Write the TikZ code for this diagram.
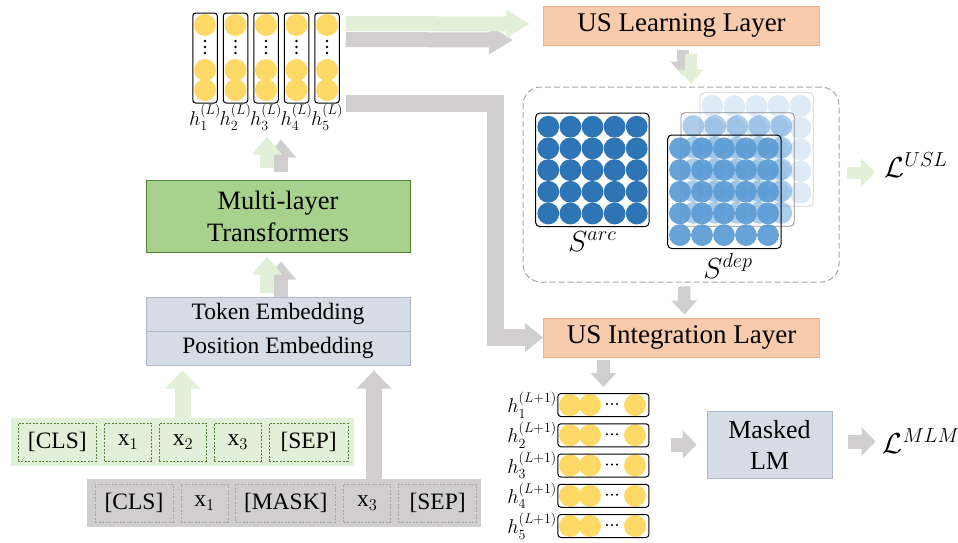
\RequirePackage{fix-cm}
\documentclass[tikz,border=0pt]{standalone}
\usepackage{fontspec}
\setmainfont{Liberation Serif}
\usepackage{amsmath}
\usetikzlibrary{arrows.meta,positioning}

\definecolor{dotyellow}{HTML}{FFD966}
\definecolor{arcblue}{HTML}{2E75B6}
\definecolor{depblue}{HTML}{5B9BD5}
\definecolor{flowgreen}{HTML}{E2F0D9}
\definecolor{flowgray}{HTML}{D0CECE}
\definecolor{layerfill}{HTML}{F8CBAD}
\definecolor{layerdraw}{HTML}{F4B183}
\definecolor{transfill}{HTML}{A9D18E}
\definecolor{transdraw}{HTML}{548235}
\definecolor{embfill}{HTML}{D6DCE5}
\definecolor{embdraw}{HTML}{ADB9CA}
\definecolor{dashgray}{HTML}{A6A6A6}

\tikzset{layerbox/.style={draw=layerdraw, fill=layerfill, line width=1pt, minimum width=276pt, minimum height=39pt, font=\fontsize{27}{30}\selectfont}}
\tikzset{embbox/.style={draw=embdraw, fill=embfill, line width=1pt, minimum width=264pt, minimum height=34pt, inner sep=0pt, font=\fontsize{23.5}{26}\selectfont}}
\tikzset{colbox/.style={draw, rounded corners=3pt, line width=1pt, minimum width=24.5pt, minimum height=90pt, inner sep=0pt}}
\tikzset{rowbox/.style={draw, rounded corners=3pt, line width=1pt, minimum width=91pt, minimum height=23pt, inner sep=0pt}}
\tikzset{matbox/.style={draw, rounded corners=4pt, line width=1pt, minimum width=113.3pt, minimum height=113.5pt, inner sep=0pt}}
\tikzset{hlabel/.style={font=\fontsize{20}{22}\selectfont, inner sep=0.5pt}}
\tikzset{tokbox/.style={dashed, dash pattern=on 2pt off 1.5pt, line width=0.7pt, minimum height=37.7pt, inner sep=0pt, font=\fontsize{23.5}{26}\selectfont}}
\tikzset{gtok/.style={tokbox, draw=transdraw}}
\tikzset{mtok/.style={tokbox, draw=dashgray}}
\tikzset{lossnode/.style={font=\fontsize{29}{31}\selectfont, inner sep=1pt}}
\tikzset{fatarrow/.style={line width=15pt, -{Triangle[length=24pt,width=27pt]}}}
\tikzset{smallarrow/.style={line width=14pt, -{Triangle[length=18pt,width=29pt]}}}
\tikzset{thinarrow/.style={line width=12.5pt, -{Triangle[length=14pt,width=25pt]}}}

\begin{document}
\begin{tikzpicture}[x=1pt, y=-1pt]
\useasboundingbox (0,0) rectangle (958,542);

% hidden states h^(L)
\foreach \x in {205,235.5,266,296.5,327} {
  \fill[dotyellow] (\x,25) circle[radius=11pt];
  \fill[dotyellow] (\x,70) circle[radius=11pt];
  \fill[dotyellow] (\x,90) circle[radius=11pt];
  \foreach \d in {41,47,53} \fill (\x,\d) circle[radius=1.3pt];
}
\node[style=colbox, label={[hlabel]below:$h_1^{(L)}$}] (col1) at (205,58) {};
\node[style=colbox, label={[hlabel]below:$h_2^{(L)}$}] (col2) at (235.5,58) {};
\node[style=colbox, label={[hlabel]below:$h_3^{(L)}$}] (col3) at (266,58) {};
\node[style=colbox, label={[hlabel]below:$h_4^{(L)}$}] (col4) at (296.5,58) {};
\node[style=colbox, label={[hlabel]below:$h_5^{(L)}$}] (col5) at (327,58) {};

% encoder side
\node[draw=transdraw, fill=transfill, line width=1pt, minimum width=264pt, minimum height=72pt, align=center, font=\fontsize{26.5}{32}\selectfont] (trans) at (278,216) {Multi-layer\\Transformers};
\node[style=embbox] (tokemb) at (278,314) {Token Embedding};
\node[style=embbox] (posemb) at (278,348) {Position Embedding};

% input rows
\node[fill=flowgreen, minimum width=343pt, minimum height=48pt] (gband) at (182.5,442) {};
\node[fill=flowgray, minimum width=394pt, minimum height=48pt] (mband) at (284,503) {};
\begin{scope}[node distance=7.2pt]
\node[gtok, minimum width=78.7pt] (gcls) at (57.3,442) {[CLS]};
\node[gtok, minimum width=47pt, right=of gcls] (gx1) {x$_1$};
\node[gtok, minimum width=47pt, right=of gx1] (gx2) {x$_2$};
\node[gtok, minimum width=47pt, right=of gx2] (gx3) {x$_3$};
\node[gtok, minimum width=78.7pt, right=of gx3] (gsep) {[SEP]};
\node[mtok, minimum width=78pt] (mcls) at (134,503) {[CLS]};
\node[mtok, minimum width=47pt, right=of mcls] (mx1) {x$_1$};
\node[mtok, minimum width=100pt, right=of mx1] (mmask) {[MASK]};
\node[mtok, minimum width=47pt, right=of mmask] (mx3) {x$_3$};
\node[mtok, minimum width=78pt, right=of mx3] (msep) {[SEP]};
\end{scope}

% structure learning side
\node[style=layerbox] (usl) at (681.5,25.5) {US Learning Layer};
\node[draw=dashgray, dash pattern=on 6pt off 3pt, line width=1pt, rounded corners=18pt, minimum width=316pt, minimum height=195pt] (sbox) at (681,184.5) {};

\begin{scope}[shift={(535.7,113)}]
\foreach \i in {0,...,4} \foreach \j in {0,...,4}
  \fill[arcblue] (12.6+22.1*\i,13.7+21.7*\j) circle[radius=10.9pt];
\end{scope}
\node[style=matbox, label={[lossnode, label distance=3pt]below:$S^{arc}$}] (sarc) at (592.35,169.85) {};

\begin{scope}[shift={(700,92.7)}]
\draw[black!18, line width=0.8pt, rounded corners=4pt] (0,0) rectangle (113.3,113.5);
\foreach \i in {0,...,4} \foreach \j in {0,...,4}
  \fill[depblue, opacity=0.2] (12.3+22*\i,13.3+21.7*\j) circle[radius=10.9pt];
\end{scope}
\begin{scope}[shift={(681,112.7)}]
\draw[black!45, line width=0.8pt, rounded corners=4pt] (0,0) rectangle (113.3,113.5);
\foreach \i in {0,...,4} \foreach \j in {0,...,4}
  \fill[depblue, opacity=0.5] (12.3+22*\i,13.3+21.7*\j) circle[radius=10.9pt];
\end{scope}
\begin{scope}[shift={(667.7,135)}]
\foreach \i in {0,...,4} \foreach \j in {0,...,4}
  \fill[depblue, opacity=0.92] (12.3+22*\i,13.3+21.7*\j) circle[radius=10.9pt];
\end{scope}
\node[style=matbox] (sdep) at (724.35,191.75) {};
\node[lossnode] (sdeplab) at (728,266) {$S^{dep}$};

\node[lossnode] (lusl) at (916,165) {$\mathcal{L}^{USL}$};
\node[style=layerbox] (usi) at (681.5,337.5) {US Integration Layer};

% hidden states h^(L+1)
\foreach \y in {405,435.25,465.5,495.75,526} {
  \fill[dotyellow] (570,\y) circle[radius=11pt];
  \fill[dotyellow] (590,\y) circle[radius=11pt];
  \fill[dotyellow] (635,\y) circle[radius=11pt];
  \foreach \d in {607,612,617} \fill (\d,\y-1) circle[radius=1.2pt];
}
\node[style=rowbox, label={[hlabel]left:$h_1^{(L+1)}$}] (row1) at (603.4,405) {};
\node[style=rowbox, label={[hlabel]left:$h_2^{(L+1)}$}] (row2) at (603.4,435.25) {};
\node[style=rowbox, label={[hlabel]left:$h_3^{(L+1)}$}] (row3) at (603.4,465.5) {};
\node[style=rowbox, label={[hlabel]left:$h_4^{(L+1)}$}] (row4) at (603.4,495.75) {};
\node[style=rowbox, label={[hlabel]left:$h_5^{(L+1)}$}] (row5) at (603.4,526) {};

\node[style=embbox, minimum width=125pt, minimum height=67pt, align=center, font=\fontsize{26}{31}\selectfont] (mlm) at (769.5,444.5) {Masked\\LM};
\node[lossnode] (lmlm) at (921,441) {$\mathcal{L}^{MLM}$};

% block arrows, gray shadow first
\draw[fatarrow, flowgray] ([xshift=6pt,yshift=-27pt]col5.north east) -- ([xshift=-30pt,yshift=-14.5pt]usl.west);
\draw[fatarrow, flowgreen] ([xshift=6pt,yshift=-11pt]col5.north east) -- ([xshift=-13pt,yshift=1.5pt]usl.west);
\draw[flowgray, line width=17pt, -{Triangle[length=18pt,width=28pt]}] ([xshift=6pt]col5.south east) -| ([xshift=-48pt]usi.west) -- (usi.west);

\draw[smallarrow, flowgray] ([xshift=3pt,yshift=8pt]trans.north) -- ([xshift=3pt,yshift=40pt]trans.north);
\draw[smallarrow, flowgreen] ([xshift=-11pt,yshift=12pt]trans.north) -- ([xshift=-11pt,yshift=43pt]trans.north);
\draw[smallarrow, flowgray] ([xshift=3pt,yshift=-0.5pt]tokemb.north) -- ([xshift=3pt,yshift=-9pt]trans.south);
\draw[smallarrow, flowgreen] ([xshift=-11pt,yshift=4pt]tokemb.north) -- ([xshift=-11pt,yshift=-4pt]trans.south);

\draw[flowgreen, line width=16pt, -{Triangle[length=18pt,width=34pt]}] (gband.north) -- ([xshift=-95.5pt,yshift=-5pt]posemb.south);
\draw[flowgray, line width=16pt, -{Triangle[length=18pt,width=34pt]}] ([xshift=90pt]mband.north) -- ([xshift=96pt,yshift=-5pt]posemb.south);

\draw[thinarrow, flowgray] ([xshift=1.5pt,yshift=-4pt]usl.south) -- ([xshift=1.5pt,yshift=-30pt]usl.south);
\draw[thinarrow, flowgreen] ([xshift=9.5pt,yshift=-8pt]usl.south) -- ([xshift=9.5pt,yshift=-38pt]usl.south);
\draw[flowgreen, line width=12pt, -{Triangle[length=15pt,width=28pt]}] ([xshift=7pt,yshift=12pt]sbox.east) -- ([xshift=36pt,yshift=12pt]sbox.east);
\draw[thinarrow, flowgray] ([xshift=3pt,yshift=-4pt]sbox.south) -- ([xshift=3pt,yshift=3pt]usi.north);
\draw[thinarrow, flowgray] ([yshift=33pt]row1.north) -- ([yshift=6pt]row1.north);
\draw[flowgray, line width=14pt, -{Triangle[length=14pt,width=28pt]}] ([xshift=-36pt]mlm.west) -- ([xshift=-10pt]mlm.west);
\draw[flowgray, line width=14pt, -{Triangle[length=14pt,width=28pt]}] ([xshift=15pt,yshift=3pt]mlm.east) -- ([xshift=43pt,yshift=3pt]mlm.east);
\end{tikzpicture}
\end{document}
